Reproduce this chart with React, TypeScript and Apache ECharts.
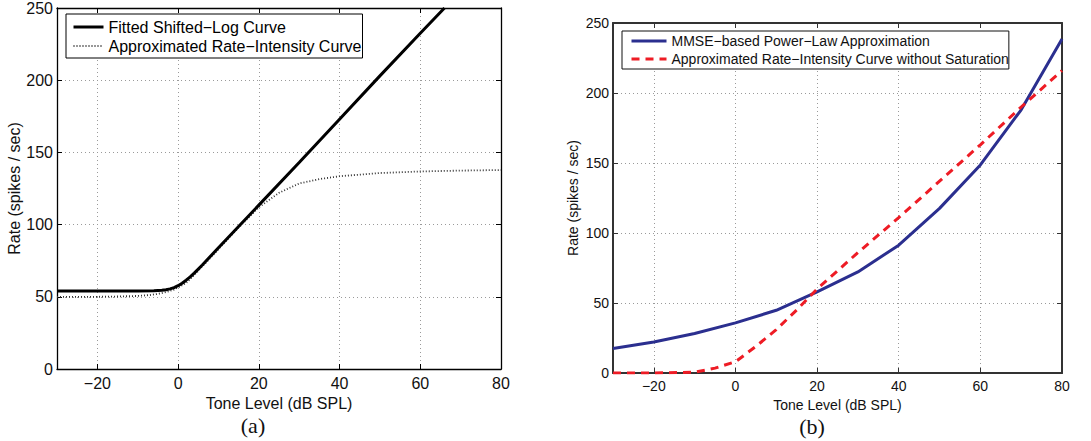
import React, { useEffect, useRef } from "react";
import * as echarts from "echarts";

// ---- Panel (a) data ----
const fittedX = [-30, -20, -10, -6, -4, -3, -2, -1, 0, 1, 2, 3, 4, 6, 10, 20, 30, 40, 50, 60, 66];
const fittedY = [54, 54, 54, 54.2, 54.5, 54.9, 55.5, 56.4, 57.7, 59.4, 61.5, 63.8, 66.4, 72, 84, 113.5, 143, 173, 203, 232.5, 250];
const approxX = [-30, -20, -15, -10, -7, -5, -3, -1, 0, 2, 5, 10, 15, 20, 22, 25, 30, 35, 40, 50, 60, 70, 80];
const approxY = [50, 50, 50.2, 50.6, 51.2, 52, 53.2, 55, 56.5, 59.5, 68, 83, 98, 112, 116, 122, 128.5, 131.5, 133.5, 135.7, 136.8, 137.4, 137.8];

// ---- Panel (b) data ----
const levelsB = [-30, -20, -10, 0, 10, 20, 30, 40, 50, 60, 70, 80];
const powerLawY = [17.5, 22.2, 28.2, 35.8, 44.8, 57.9, 72.2, 91.3, 117.6, 148.6, 188, 238.5];
const noSatX = [-30, -20, -10, -5, 0, 5, 10, 15, 20, 30, 40, 50, 60, 70, 80];
const noSatY = [0, 0, 0.5, 3.5, 8, 19, 31, 45, 60, 86, 111, 137, 163, 190, 216];

const yTicksMax = 250;
const xMin = -30;
const xMax = 80;

const nameA1 = "Fitted Shifted\u2212Log Curve";
const nameA2 = "Approximated Rate\u2212Intensity Curve";
const nameB1 = "MMSE\u2212based Power\u2212Law Approximation";
const nameB2 = "Approximated Rate\u2212Intensity Curve without Saturation";

const FONT = "'Liberation Sans', Arial, Helvetica, sans-serif";
const SERIF = "'Liberation Serif', 'DejaVu Serif', serif";

const pairs = (xs: number[], ys: number[]) => xs.map((x, i) => [x, ys[i]]);
const minus = (v: number) => String(v).replace("-", "\u2212");

function makeX(gridIndex: number, position: "bottom" | "top", fs: number, main: boolean, lineColor: string, lw: number, gap: number) {
  return {
    type: "value",
    gridIndex,
    position,
    min: xMin,
    max: xMax,
    name: main ? "Tone Level (dB SPL)" : "",
    nameLocation: "middle",
    nameGap: gap,
    nameTextStyle: { fontFamily: FONT, fontSize: fs, color: "#111" },
    axisLine: { show: true, onZero: false, lineStyle: { color: lineColor, width: lw } },
    axisTick: { show: true, inside: true, length: 5, lineStyle: { color: lineColor, width: 1 } },
    axisLabel: {
      show: main,
      showMinLabel: false,
      margin: 6,
      fontFamily: FONT,
      fontSize: fs,
      color: "#111",
      formatter: minus,
    },
    splitLine: main
      ? { show: true, lineStyle: { color: "#9a9a9a", width: 1, type: [1, 3] } }
      : { show: false },
  };
}

function makeY(gridIndex: number, position: "left" | "right", fs: number, main: boolean, lineColor: string, lw: number, gap: number) {
  return {
    type: "value",
    gridIndex,
    position,
    min: 0,
    max: yTicksMax,
    interval: 50,
    name: main ? "Rate (spikes / sec)" : "",
    nameLocation: "middle",
    nameGap: gap,
    nameTextStyle: { fontFamily: FONT, fontSize: fs, color: "#111" },
    axisLine: { show: true, onZero: false, lineStyle: { color: lineColor, width: lw } },
    axisTick: { show: true, inside: true, length: 5, lineStyle: { color: lineColor, width: 1 } },
    axisLabel: { show: main, margin: 4, fontFamily: FONT, fontSize: fs, color: "#111" },
    splitLine: main
      ? { show: true, lineStyle: { color: "#9a9a9a", width: 1, type: [1, 3] } }
      : { show: false },
  };
}

export default function App() {
  const ref = useRef<HTMLDivElement>(null);

  useEffect(() => {
    if (!ref.current) return;
    const chart = echarts.init(ref.current, undefined, { renderer: "svg" });
    const option = {
      animation: false,
      backgroundColor: "#fff",
      grid: [
        { left: 57, top: 7, width: 444, height: 362, containLabel: false },
        { left: 613, top: 23, width: 449, height: 350, containLabel: false },
      ],
      xAxis: [
        makeX(0, "bottom", 16, true, "#000", 1.3, 19),
        makeX(0, "top", 16, false, "#000", 1.3, 19),
        makeX(1, "bottom", 14, true, "#333", 2, 17),
        makeX(1, "top", 14, false, "#333", 2, 17),
      ],
      yAxis: [
        makeY(0, "left", 16, true, "#000", 1.3, 35),
        makeY(0, "right", 16, false, "#000", 1.3, 35),
        makeY(1, "left", 14, true, "#333", 2, 33),
        makeY(1, "right", 14, false, "#333", 2, 33),
      ],
      legend: [
        {
          data: [
            { name: nameA1, lineStyle: { width: 3 } },
            { name: nameA2, lineStyle: { width: 1.8 } },
          ],
          orient: "vertical",
          left: 66,
          top: 14,
          backgroundColor: "#fff",
          borderColor: "#000",
          borderWidth: 1,
          padding: [5, 1, 4, 6],
          itemGap: 3,
          itemWidth: 30,
          itemHeight: 16,
          itemStyle: { opacity: 0 },
          textStyle: { fontFamily: FONT, fontSize: 16, color: "#000" },
        },
        {
          data: [
            { name: nameB1, lineStyle: { width: 3 } },
            { name: nameB2, lineStyle: { width: 3 } },
          ],
          orient: "vertical",
          left: 622,
          top: 31,
          backgroundColor: "#fff",
          borderColor: "#111",
          borderWidth: 1,
          padding: [3, 0, 3, 8],
          itemGap: 4,
          itemWidth: 35,
          itemHeight: 14,
          itemStyle: { opacity: 0 },
          textStyle: { fontFamily: FONT, fontSize: 14, color: "#111" },
        },
      ],
      series: [
        {
          type: "line",
          name: nameA1,
          xAxisIndex: 0,
          yAxisIndex: 0,
          data: pairs(fittedX, fittedY),
          symbol: "none",
          showSymbol: false,
          z: 4,
          itemStyle: { color: "#000" },
          lineStyle: { color: "#000", width: 3 },
        },
        {
          type: "line",
          name: nameA2,
          xAxisIndex: 0,
          yAxisIndex: 0,
          data: pairs(approxX, approxY),
          symbol: "none",
          showSymbol: false,
          z: 3,
          itemStyle: { color: "#333" },
          lineStyle: { color: "#333", width: 1.8, type: [1, 2] },
        },
        {
          type: "line",
          name: nameB1,
          xAxisIndex: 2,
          yAxisIndex: 2,
          data: pairs(levelsB, powerLawY),
          symbol: "none",
          showSymbol: false,
          z: 3,
          itemStyle: { color: "#2b2f8f" },
          lineStyle: { color: "#2b2f8f", width: 3 },
        },
        {
          type: "line",
          name: nameB2,
          xAxisIndex: 2,
          yAxisIndex: 2,
          data: pairs(noSatX, noSatY),
          symbol: "none",
          showSymbol: false,
          z: 4,
          itemStyle: { color: "#ee1c25" },
          lineStyle: { color: "#ee1c25", width: 3, type: [8, 6] },
        },
      ],
      graphic: [
        {
          type: "text",
          x: 253,
          y: 425,
          style: {
            text: "(a)",
            fontFamily: SERIF,
            fontSize: 22,
            fill: "#111",
            align: "center",
            verticalAlign: "middle",
          },
        },
        {
          type: "text",
          x: 812,
          y: 426,
          style: {
            text: "(b)",
            fontFamily: SERIF,
            fontSize: 22,
            fill: "#111",
            align: "center",
            verticalAlign: "middle",
          },
        },
      ],
    };
    chart.setOption(option as any);
    return () => chart.dispose();
  }, []);

  return (
    <div
      ref={ref}
      style={{ position: "fixed", left: 0, top: 0, width: 1091, height: 441, background: "#fff" }}
    />
  );
}
